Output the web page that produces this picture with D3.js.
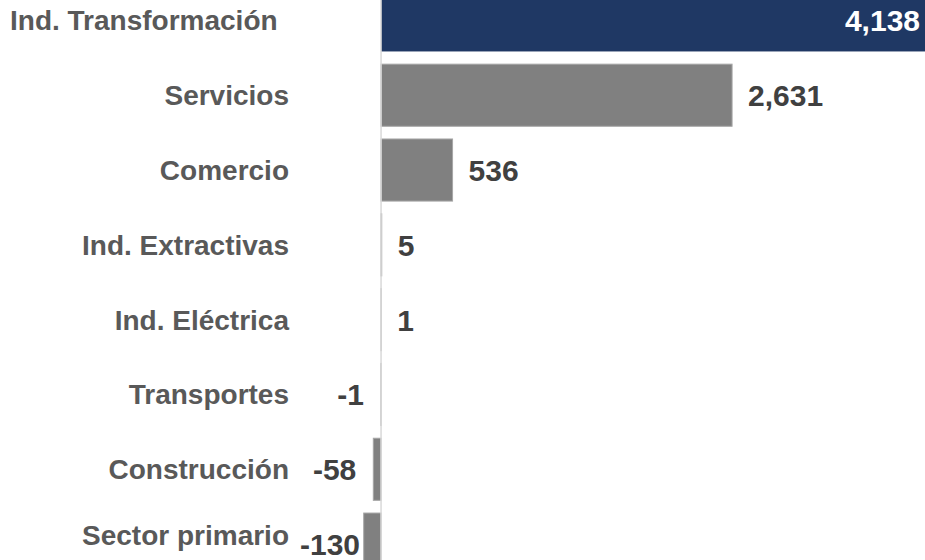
<!DOCTYPE html>
<html>
<head>
<meta charset="utf-8">
<script src="https://cdn.jsdelivr.net/npm/d3@7"></script>
<style>
  html, body { margin: 0; padding: 0; background: #fff; }
  svg { display: block; }
</style>
</head>
<body>
<svg id="chart" width="925" height="560"></svg>
<script>
// Employment change by sector
const categories = [
  "Ind. Transformación", "Servicios", "Comercio", "Ind. Extractivas",
  "Ind. Eléctrica", "Transportes", "Construcción", "Sector primario"
];
const values = [4138, 2631, 536, 5, 1, -1, -58, -130];
const valueLabels = ["4,138", "2,631", "536", "5", "1", "-1", "-58", "-130"];
const highlighted = ["Ind. Transformación"];

const width = 925, height = 560;
const svg = d3.select("#chart");

const x = d3.scaleLinear().domain([-2856, 4077]).range([0, width]);
const y = d3.scaleBand().domain(categories).range([-17, 581.5])
  .paddingInner(0.17).paddingOuter(0.085);

const rows = categories.map((c, i) => ({ cat: c, v: values[i], label: valueLabels[i] }));

// bars
svg.append("g").selectAll("rect").data(rows).join("rect")
  .attr("x", d => Math.min(x(0), x(d.v)))
  .attr("y", d => y(d.cat))
  .attr("width", d => Math.abs(x(d.v) - x(0)))
  .attr("height", y.bandwidth())
  .attr("fill", d => highlighted.includes(d.cat) ? "#1f3864" : "#808080")
  .attr("stroke", d => highlighted.includes(d.cat) ? "none" : "#a6a6a6")
  .attr("stroke-width", 1);

// zero axis line
svg.append("line")
  .attr("x1", x(0)).attr("x2", x(0))
  .attr("y1", 0).attr("y2", height)
  .attr("stroke", "#d9d9d9").attr("stroke-width", 1.5);

// category labels: right-aligned to the label column, long ones pinned to the left margin
const catRight = 289, catLeft = 10;
svg.append("g").selectAll("text").data(rows).join("text")
  .attr("y", d => Math.min(y(d.cat) + y.bandwidth() / 2 + 10, height - 15))
  .attr("font-family", "Liberation Sans, Arial, sans-serif")
  .attr("font-weight", "bold")
  .attr("font-size", 28)
  .attr("fill", "#595959")
  .text(d => d.cat)
  .each(function () {
    const w = this.getComputedTextLength();
    const start = catRight - w < catLeft + 14 ? catLeft : catRight - w;
    d3.select(this).attr("x", start);
  });

// value labels
const valG = svg.append("g");
rows.forEach(d => {
  const cy = y(d.cat) + y.bandwidth() / 2 + 11;
  const t = valG.append("text")
    .attr("font-family", "Liberation Sans, Arial, sans-serif")
    .attr("font-weight", "bold")
    .attr("font-size", 30)
    .attr("y", cy)
    .text(d.label);
  if (highlighted.includes(d.cat)) {
    t.attr("x", width - 5).attr("text-anchor", "end").attr("fill", "#ffffff");
  } else if (d.v >= 0) {
    t.attr("x", x(d.v) + 16).attr("text-anchor", "start").attr("fill", "#404040");
  } else {
    const w = t.node().getComputedTextLength();
    let start = x(d.v) - 17 - w;
    start = Math.max(start, catRight + 11);
    t.attr("x", start).attr("text-anchor", "start").attr("fill", "#404040");
  }
});
</script>
</body>
</html>
